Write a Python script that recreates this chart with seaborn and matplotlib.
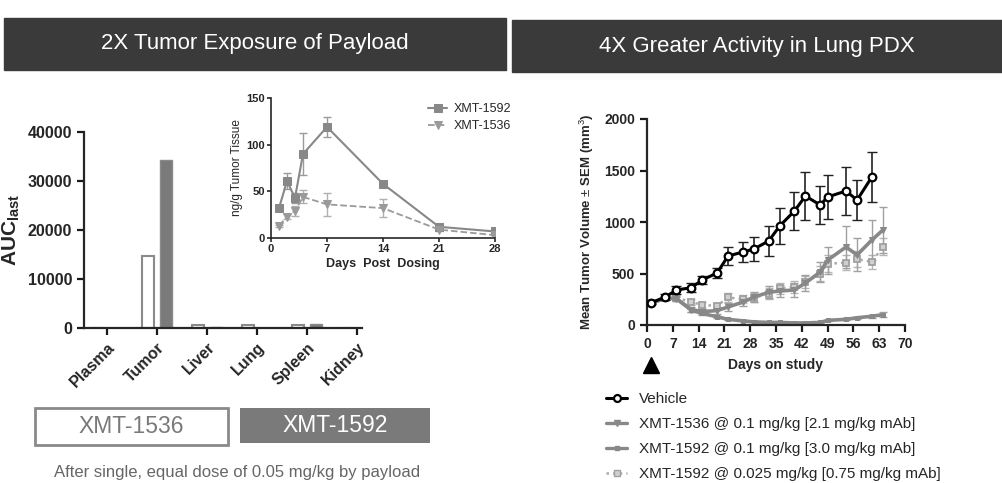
import numpy as np
import pandas as pd
import matplotlib
matplotlib.use("Agg")
import matplotlib.pyplot as plt
from matplotlib.patches import Rectangle
from matplotlib.lines import Line2D
import seaborn as sns

# ---- data ----
tissues = ["Plasma", "Tumor", "Liver", "Lung", "Spleen", "Kidney"]
auc_1536 = [30, 14600, 700, 600, 600, 30]
auc_1592 = [40, 34300, 200, 60, 750, 40]

pk_days = [1, 2, 3, 4, 7, 14, 21, 28]
pk_1592 = [32, 61, 43, 90, 119, 58, 12, 7]
pk_1592_err = [2, 9, 5, 22, 11, 2, 1, 1]
pk_1536 = [13, 23, 29, 44, 36, 32, 9, 3]
pk_1536_err = [1, 3, 5, 7, 12, 10, 1, 1]

veh_days = [1, 5, 8, 12, 15, 19, 22, 26, 29, 33, 36, 40, 43, 47, 49, 54, 57, 61]
veh_vol = [215, 272, 340, 362, 437, 505, 670, 708, 738, 815, 961, 1107, 1252, 1165, 1243, 1301, 1213, 1437]
veh_sem = [15, 25, 40, 45, 40, 45, 87, 100, 121, 144, 173, 186, 231, 186, 213, 234, 190, 243]

trt_days = [1, 5, 8, 12, 15, 19, 22, 26, 29, 33, 36, 40, 43, 47, 49, 54, 57, 61, 64]
x1536_vol = [210, 262, 255, 150, 130, 140, 175, 222, 270, 318, 330, 340, 408, 515, 630, 757, 680, 825, 922]
x1536_sem = [15, 20, 25, 20, 25, 30, 35, 40, 50, 60, 60, 70, 80, 100, 130, 200, 160, 190, 220]
x1592_vol = [210, 262, 255, 145, 112, 80, 55, 40, 30, 25, 25, 20, 20, 25, 45, 55, 70, 85, 100]
x1592_sem = [15, 20, 20, 15, 12, 10, 8, 6, 5, 5, 5, 5, 5, 6, 8, 10, 12, 15, 25]
x1592lo_vol = [210, 258, 265, 222, 195, 185, 268, 250, 265, 305, 355, 370, 415, 500, 595, 605, 640, 612, 760]
x1592lo_sem = [15, 20, 25, 30, 30, 30, 40, 40, 45, 50, 55, 55, 60, 70, 80, 70, 80, 70, 80]

dose_day = [1]

legend_labels = ["Vehicle",
                 "XMT-1536 @ 0.1 mg/kg [2.1 mg/kg mAb]",
                 "XMT-1592 @ 0.1 mg/kg [3.0 mg/kg mAb]",
                 "XMT-1592 @ 0.025 mg/kg [0.75 mg/kg mAb]"]

sns.set_style("ticks")
plt.rcParams["font.family"] = ["Liberation Sans", "DejaVu Sans"]
plt.rcParams["mathtext.fontset"] = "custom"
plt.rcParams["mathtext.bf"] = "Liberation Sans:bold"
plt.rcParams["mathtext.rm"] = "Liberation Sans"
plt.rcParams["axes.linewidth"] = 1.6
plt.rcParams["xtick.major.width"] = 1.6
plt.rcParams["ytick.major.width"] = 1.6

W, H = 1002, 483
fig = plt.figure(figsize=(W / 100, H / 100), dpi=100)


def box(x0, y0, x1, y1):
    # pixel box (top-left origin) -> figure fraction rect
    return [x0 / W, 1 - y1 / H, (x1 - x0) / W, (y1 - y0) / H]


GREY = "#888888"
DARK = "#1a1a1a"

# ---- headers ----
for (x0, y0, x1, y1), title in [((4, 18, 506, 70), "2X Tumor Exposure of Payload"),
                                ((512, 20, 1002, 72), "4X Greater Activity in Lung PDX")]:
    r = box(x0, y0, x1, y1)
    fig.add_artist(Rectangle((r[0], r[1]), r[2], r[3], transform=fig.transFigure,
                             color="#3a3a3a", zorder=0))
    fig.text(r[0] + r[2] / 2, r[1] + r[3] / 2, title, color="white", fontsize=16,
             ha="center", va="center")

# ---- left bar chart ----
ax1 = fig.add_axes(box(84, 132, 362, 328))
df = pd.DataFrame({"tissue": tissues * 2,
                   "auc": auc_1536 + auc_1592,
                   "compound": ["XMT-1536"] * 6 + ["XMT-1592"] * 6})
sns.barplot(data=df, x="tissue", y="auc", hue="compound", ax=ax1, width=0.72, gap=0.33,
            palette=["white", "#7a7a7a"], legend=False, saturation=1)
for i, p in enumerate(ax1.patches):
    if i < len(tissues):
        p.set_facecolor("white")
        p.set_edgecolor("#8a8a8a")
        p.set_linewidth(1.5)
    else:
        p.set_edgecolor("#8a8a8a")
        p.set_linewidth(1)
ax1.set_xlim(-0.46, 5.1)
ax1.set_ylim(0, 40000)
ax1.set_yticks([0, 10000, 20000, 30000, 40000])
ax1.set_xlabel("")
ax1.set_ylabel(r"$\mathbf{AUC_{last}}$", fontsize=15, labelpad=4)
ax1.tick_params(axis="both", labelsize=11.5, length=5, color=DARK)
for lab in ax1.get_yticklabels():
    lab.set_fontweight("bold")
for lab in ax1.get_xticklabels():
    lab.set_fontweight("bold")
    lab.set_rotation(45)
    lab.set_ha("right")
    lab.set_rotation_mode("anchor")
sns.despine(ax=ax1)

# ---- inset PK ----
ax2 = fig.add_axes(box(271, 98, 495, 238))
ax2.errorbar(pk_days, pk_1592, yerr=pk_1592_err, fmt="none", ecolor="#9a9a9a",
             elinewidth=1, capsize=3)
ax2.errorbar(pk_days, pk_1536, yerr=pk_1536_err, fmt="none", ecolor="#b0b0b0",
             elinewidth=1, capsize=3)
sns.lineplot(x=pk_days, y=pk_1592, ax=ax2, color=GREY, marker="s", markersize=6,
             markeredgecolor=GREY, linewidth=1.5, label="XMT-1592")
sns.lineplot(x=pk_days, y=pk_1536, ax=ax2, color="#9a9a9a", marker="v", markersize=6,
             markeredgecolor="#9a9a9a", linewidth=1.3, linestyle="--", label="XMT-1536")
ax2.set_xlim(0, 28)
ax2.set_ylim(0, 150)
ax2.set_xticks([0, 7, 14, 21, 28])
ax2.set_yticks([0, 50, 100, 150])
ax2.tick_params(axis="both", labelsize=8, length=3, width=1.2, pad=1.5)
for lab in ax2.get_xticklabels() + ax2.get_yticklabels():
    lab.set_fontweight("bold")
for s in ["left", "bottom"]:
    ax2.spines[s].set_linewidth(1.2)
ax2.set_xlabel("Days  Post  Dosing", fontsize=9, fontweight="bold", labelpad=3)
ax2.set_ylabel("ng/g Tumor Tissue", fontsize=8.5, labelpad=2)
ax2.patch.set_alpha(0)
ax2.legend(loc="upper left", bbox_to_anchor=(0.68, 1.0), frameon=False, fontsize=9,
           handlelength=1.5, handletextpad=0.5, labelspacing=0.4, borderaxespad=0)
sns.despine(ax=ax2)

# ---- left bottom legend boxes and caption ----
r = box(35, 408, 228, 445)
fig.add_artist(Rectangle((r[0], r[1]), r[2], r[3], transform=fig.transFigure,
                         facecolor="white", edgecolor="#8a8a8a", linewidth=2))
fig.text(r[0] + r[2] / 2, r[1] + r[3] / 2, "XMT-1536", color="#7a7a7a", fontsize=16.5,
         ha="center", va="center")
r = box(240, 408, 430, 443)
fig.add_artist(Rectangle((r[0], r[1]), r[2], r[3], transform=fig.transFigure,
                         facecolor="#7a7a7a", edgecolor="none"))
fig.text(r[0] + r[2] / 2, r[1] + r[3] / 2, "XMT-1592", color="white", fontsize=16.5,
         ha="center", va="center")
fig.text(237 / W, 1 - 473 / H, "After single, equal dose of 0.05 mg/kg by payload",
         color="#666666", fontsize=12, ha="center", va="center")

# ---- right efficacy chart ----
ax3 = fig.add_axes(box(647, 119, 905, 325))
ax3.errorbar(trt_days, x1592lo_vol, yerr=x1592lo_sem, fmt="none", ecolor="#b5b5b5",
             elinewidth=1, capsize=3)
ax3.errorbar(trt_days, x1536_vol, yerr=x1536_sem, fmt="none", ecolor="#a0a0a0",
             elinewidth=1, capsize=3)
ax3.errorbar(trt_days, x1592_vol, yerr=x1592_sem, fmt="none", ecolor="#a0a0a0",
             elinewidth=1, capsize=3)
sns.lineplot(x=trt_days, y=x1592lo_vol, ax=ax3, color="#aaaaaa", linestyle=":",
             linewidth=1.8, marker="s", markersize=5, markerfacecolor="#d0d0d0",
             markeredgecolor="#a0a0a0", markeredgewidth=1.3)
sns.lineplot(x=trt_days, y=x1592_vol, ax=ax3, color=GREY, linewidth=2.6,
             marker="s", markersize=3.5, markeredgecolor=GREY)
sns.lineplot(x=trt_days, y=x1536_vol, ax=ax3, color=GREY, linewidth=2.6,
             marker="v", markersize=4.5, markeredgecolor=GREY)
ax3.errorbar(veh_days, veh_vol, yerr=veh_sem, fmt="none", ecolor="#222222",
             elinewidth=1.2, capsize=3.5, zorder=4)
sns.lineplot(x=veh_days, y=veh_vol, ax=ax3, color="black", linewidth=2.2,
             marker="o", markersize=5.5, markerfacecolor="white", markeredgecolor="black",
             markeredgewidth=1.6, zorder=5)
ax3.plot(dose_day, [-0.195] * len(dose_day), marker="^", markersize=12, color="black",
         linestyle="none", transform=ax3.get_xaxis_transform(), clip_on=False)
ax3.set_xlim(0, 70)
ax3.set_ylim(0, 2000)
ax3.set_xticks(np.arange(0, 71, 7))
ax3.set_yticks([0, 500, 1000, 1500, 2000])
ax3.tick_params(axis="both", labelsize=10, length=5, color=DARK)
for lab in ax3.get_xticklabels() + ax3.get_yticklabels():
    lab.set_fontweight("bold")
ax3.set_xlabel("Days on study", fontsize=10, fontweight="bold", labelpad=5)
ax3.set_ylabel("Mean Tumor Volume $\\pm$ SEM (mm$^{3}$)", fontsize=9.5,
               fontweight="bold", labelpad=6)
sns.despine(ax=ax3)

handles = [
    Line2D([], [], color="black", linewidth=2.2, marker="o", markersize=5,
           markerfacecolor="white", markeredgecolor="black", markeredgewidth=1.6),
    Line2D([], [], color=GREY, linewidth=2.4, marker="v", markersize=4),
    Line2D([], [], color=GREY, linewidth=2.4, marker="s", markersize=3),
    Line2D([], [], color="#aaaaaa", linewidth=1.8, linestyle=":", marker="s", markersize=5,
           markerfacecolor="#d0d0d0", markeredgecolor="#a0a0a0"),
]
fig.legend(handles, legend_labels, loc="upper left", bbox_to_anchor=(606 / W, 1 - 392 / H),
           frameon=False, fontsize=11, handlelength=1.4, handletextpad=0.75,
           labelspacing=0.72, borderaxespad=0, borderpad=0)

fig.savefig("out.png", dpi=100)
